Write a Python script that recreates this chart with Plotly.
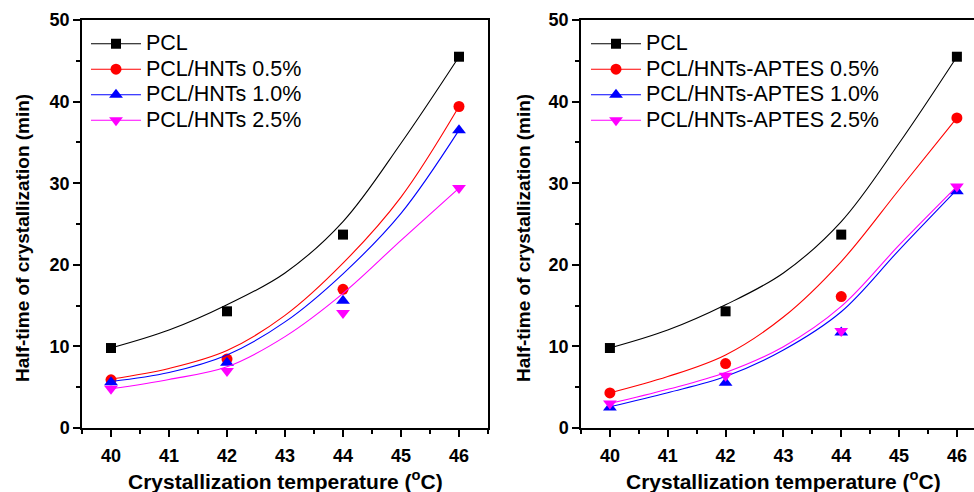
import plotly.graph_objects as go

# ---- data ----
temps = [40, 42, 44, 46]
fit_t = [40, 41, 42, 43, 44, 45, 46]

left_names = ["PCL", "PCL/HNTs 0.5%", "PCL/HNTs 1.0%", "PCL/HNTs 2.5%"]
left_pcl = [9.8, 14.3, 23.7, 45.5]
left_h05 = [5.9, 8.45, 17.0, 39.4]
left_h10 = [5.6, 8.0, 15.6, 36.5]
left_h25 = [4.8, 7.0, 14.1, 29.4]
# fitted curves
left_pcl_fit = [9.8, 12.0, 15.1, 19.0, 25.3, 34.9, 45.5]
left_h05_fit = [6.0, 7.3, 9.5, 13.8, 20.2, 28.3, 39.4]
left_h10_fit = [5.7, 6.8, 8.95, 13.0, 18.9, 26.3, 36.5]
left_h25_fit = [4.8, 5.95, 7.5, 11.2, 16.5, 23.0, 29.4]

right_names = ["PCL", "PCL/HNTs-APTES 0.5%", "PCL/HNTs-APTES 1.0%", "PCL/HNTs-APTES 2.5%"]
right_pcl = [9.8, 14.3, 23.7, 45.5]
right_a05 = [4.3, 7.9, 16.1, 38.0]
right_a10 = [2.5, 5.55, 11.7, 29.0]
right_a25 = [3.0, 6.4, 11.9, 29.6]
right_pcl_fit = [9.8, 12.0, 15.1, 19.0, 25.3, 34.9, 45.5]
right_a05_fit = [4.3, 6.3, 8.95, 13.6, 20.4, 29.2, 38.0]
right_a10_fit = [2.6, 4.33, 6.3, 9.56, 14.25, 21.8, 29.2]
right_a25_fit = [3.0, 4.74, 6.8, 9.96, 14.9, 22.4, 29.6]

x_title = "Crystallization temperature (<sup>o</sup>C)"
y_title = "Half-time of crystallization (min)"

colors = ["#000000", "#ff0000", "#0000ff", "#ff00ff"]
symbols = ["square", "circle", "triangle-up", "triangle-down"]
msizes = [10, 11, 12, 12]

FONT = "Liberation Sans, Arial, sans-serif"
W, H = 974, 492

fig = go.Figure()

def add_panel(names, series, fits, xa, ya, legend):
    for i, (nm, ys, fy) in enumerate(zip(names, series, fits)):
        fig.add_trace(go.Scatter(
            x=fit_t, y=fy, mode="lines", line=dict(color=colors[i], width=1.1, shape="spline"),
            xaxis=xa, yaxis=ya, showlegend=False, hoverinfo="skip"))
        fig.add_trace(go.Scatter(
            x=temps, y=ys, mode="markers",
            marker=dict(symbol=symbols[i], size=msizes[i], color=colors[i], line=dict(width=0)),
            xaxis=xa, yaxis=ya, showlegend=False, name=nm))
        fig.add_trace(go.Scatter(
            x=[None], y=[None], mode="lines+markers",
            name='<span style="font-size:21.5px">' + nm + '</span>',
            line=dict(color=colors[i], width=1.1),
            marker=dict(symbol=symbols[i], size=msizes[i], color=colors[i], line=dict(width=0)),
            xaxis=xa, yaxis=ya, legend=legend, showlegend=True))

add_panel(left_names, [left_pcl, left_h05, left_h10, left_h25],
          [left_pcl_fit, left_h05_fit, left_h10_fit, left_h25_fit], "x", "y", "legend")
add_panel(right_names, [right_pcl, right_a05, right_a10, right_a25],
          [right_pcl_fit, right_a05_fit, right_a10_fit, right_a25_fit], "x2", "y2", "legend2")

tickfont = dict(family=FONT, size=18, color="black", weight="bold")
xtitlefont = dict(family=FONT, size=21, color="black", weight="bold")
ytitlefont = dict(family=FONT, size=19, color="black", weight="bold")

def xaxis(domain, rng, anchor):
    return dict(domain=domain, range=rng, anchor=anchor, dtick=1, tick0=40,
                ticks="outside", ticklen=7, tickwidth=1.5, tickcolor="black",
                minor=dict(dtick=0.5, ticks="outside", ticklen=4, tickwidth=1.5, tickcolor="black"),
                showline=True, linecolor="black", linewidth=1.5, mirror=True,
                showgrid=False, zeroline=False, tickfont=tickfont, ticklabelstandoff=4,
                automargin=False)

def yaxis(domain, anchor, mirror):
    return dict(domain=domain, range=[0, 50], anchor=anchor, dtick=10,
                ticks="outside", ticklen=7, tickwidth=1.5, tickcolor="black",
                minor=dict(dtick=5, ticks="outside", ticklen=4, tickwidth=1.5, tickcolor="black"),
                showline=True, linecolor="black", linewidth=1.5, mirror=mirror,
                showgrid=False, zeroline=False, tickfont=tickfont,
                automargin=False)

ydom = [1 - 428 / H, 1 - 20 / H]
legfont = dict(family=FONT, size=17.3, color="black")
annotations = [
    dict(text=x_title, x=285 / W, y=1 - 480 / H, xref="paper", yref="paper",
         showarrow=False, font=xtitlefont, xanchor="center", yanchor="middle"),
    dict(text=x_title, x=783.5 / W, y=1 - 480 / H, xref="paper", yref="paper",
         showarrow=False, font=xtitlefont, xanchor="center", yanchor="middle"),
    dict(text=y_title, x=22 / W, y=1 - 238 / H, xref="paper", yref="paper", textangle=-90,
         showarrow=False, font=ytitlefont, xanchor="center", yanchor="middle"),
    dict(text=y_title, x=523 / W, y=1 - 238 / H, xref="paper", yref="paper", textangle=-90,
         showarrow=False, font=ytitlefont, xanchor="center", yanchor="middle"),
]

fig.update_layout(
    width=W, height=H, margin=dict(l=0, r=0, t=0, b=0),
    paper_bgcolor="white", plot_bgcolor="white",
    xaxis=xaxis([82 / W, 488 / W], [39.5, 46.5], "y"),
    yaxis=yaxis(ydom, "x", True),
    xaxis2=xaxis([581 / W, 1.0], [39.5, 39.5 + (974 - 581) / 57.83], "y2"),
    yaxis2=yaxis(ydom, "x2", False),
    legend=dict(x=86 / W, y=1 - 26 / H, xanchor="left", yanchor="top", font=legfont,
                bgcolor="rgba(0,0,0,0)", tracegroupgap=0, itemwidth=50),
    legend2=dict(x=586 / W, y=1 - 26 / H, xanchor="left", yanchor="top", font=legfont,
                 bgcolor="rgba(0,0,0,0)", tracegroupgap=0, itemwidth=50),
    annotations=annotations,
    showlegend=True,
)

fig.write_html("out.html")
